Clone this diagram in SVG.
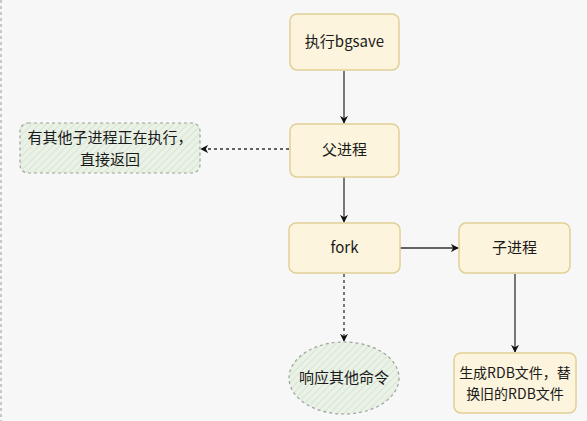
<svg xmlns="http://www.w3.org/2000/svg" width="587" height="421" viewBox="0 0 587 421">
<style>
.y{fill:#fcf4dc;stroke:#e2cf96;stroke-width:1.5}
.g{fill:url(#hatch);stroke:#9aa596;stroke-width:1.2;stroke-dasharray:3 3}
.t{font-family:"Noto Sans CJK SC","Liberation Sans",sans-serif;font-size:15px;fill:#1a1a1a;text-anchor:middle}
.s{font-size:14px}
.c{fill:none;stroke:#333;stroke-width:1.3}
.d{stroke-dasharray:3 3}
</style>
<defs>
<pattern id="hatch" patternUnits="userSpaceOnUse" width="5" height="5" patternTransform="rotate(45)">
<rect width="5" height="5" fill="#eaf1e6"/>
<line x1="0" y1="0" x2="0" y2="5" stroke="#d3e2cd" stroke-width="1.5"/>
</pattern>
<marker id="a" viewBox="0 0 10 10" refX="9" refY="5" markerWidth="8" markerHeight="8" markerUnits="userSpaceOnUse" orient="auto">
<path d="M0,0 L10,5 L0,10 L3,5 Z" fill="#111"/>
</marker>
</defs>
<rect width="587" height="421" fill="#f7f7f7"/>
<line x1="1" y1="0" x2="1" y2="421" stroke="#999" stroke-width="1" stroke-dasharray="3 3"/>
<g id="connectors">
<line class="c" x1="344" y1="71" x2="344" y2="123" marker-end="url(#a)"/>
<line class="c d" x1="289" y1="149" x2="201" y2="149" marker-end="url(#a)"/>
<line class="c" x1="344" y1="177" x2="344" y2="222" marker-end="url(#a)"/>
<line class="c" x1="400" y1="248" x2="458" y2="248" marker-end="url(#a)"/>
<line class="c d" stroke="#555" x1="344" y1="274" x2="344" y2="341" marker-end="url(#a)"/>
<line class="c" stroke="#555" x1="515" y1="274" x2="515" y2="352" marker-end="url(#a)"/>
</g>
<g id="bgsave"><rect class="y" x="290" y="14" width="109" height="56" rx="7"/><text class="t" x="344.5" y="47">执行bgsave</text></g>
<g id="parent"><rect class="y" x="290" y="124" width="109" height="53" rx="7"/><text class="t" x="344.5" y="155">父进程</text></g>
<g id="return"><rect class="g" x="20" y="123" width="180" height="50" rx="8"/><text class="t" x="110" y="143">有其他子进程正在执行，</text><text class="t" x="110" y="165">直接返回</text></g>
<g id="fork"><rect class="y" x="289" y="223" width="111" height="50" rx="7"/><text class="t" x="344.5" y="253">fork</text></g>
<g id="child"><rect class="y" x="459" y="223" width="111" height="50" rx="7"/><text class="t" x="514.5" y="253">子进程</text></g>
<g id="respond"><ellipse class="g" cx="344" cy="378" rx="55" ry="36"/><text class="t" x="344" y="383">响应其他命令</text></g>
<g id="rdb"><rect class="y" x="454" y="353" width="122" height="60" rx="7"/><text class="t s" x="515" y="378">生成RDB文件，替</text><text class="t s" x="515" y="399">换旧的RDB文件</text></g>
</svg>
